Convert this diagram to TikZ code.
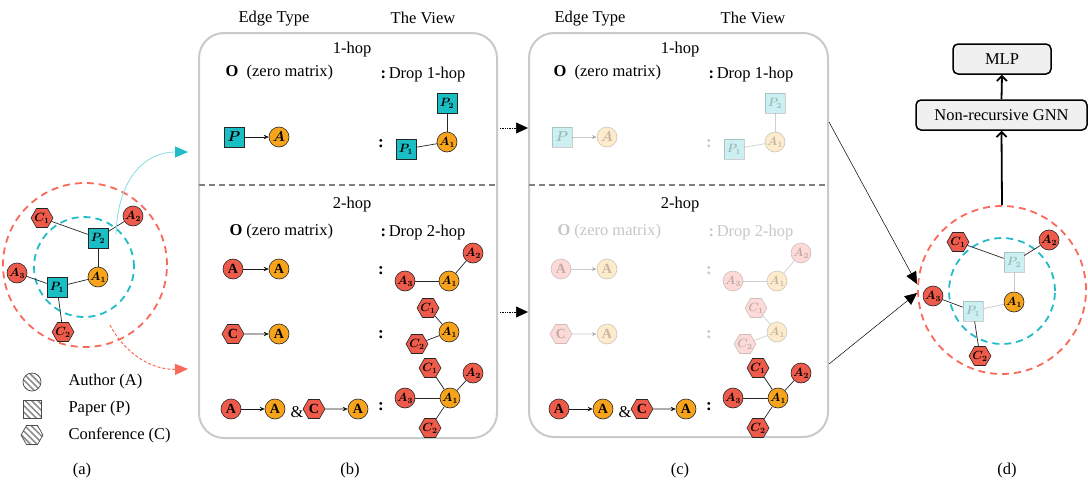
\documentclass[tikz,border=0pt]{standalone}
\usepackage{fontspec}
\setmainfont{Liberation Serif}
\usepackage{amsmath,bm}
\usetikzlibrary{arrows.meta,shapes.geometric,patterns.meta}
\definecolor{tealn}{HTML}{1ABFC6}
\definecolor{orng}{HTML}{F7A41C}
\definecolor{redn}{HTML}{EF5B4B}
\definecolor{ringred}{HTML}{FA6A5A}
\definecolor{ringcyan}{HTML}{22BCC8}
\definecolor{boxgray}{HTML}{CACACA}
\definecolor{lblue}{HTML}{86DCE2}
\newcommand{\ndlab}[2]{$\bm{#1}_{\bm{#2}}$}
\newcommand{\hopview}[1]{%
\node (#1h1) at (352,50) {1-hop};
\node[anchor=west] (#1z1) at (222,73) {\textbf{O}\enspace(zero matrix)};
\node[anchor=west] (#1d1) at (377,75) {\textbf{:}\,Drop 1-hop};
\node[pp,big,fadeg] (#1eP) at (234,137) {$\bm{P}$};
\node[au,big,fadeg] (#1eA) at (279,137) {$\bm{A}$};
\draw[etarrow,fadeg] (#1eP) -- (#1eA);
\node[colon,fadeg] (#1c1) at (381,144) {\textbf{:}};
\node[pp,fadeg] (#1vP2) at (447,103) {\ndlab{P}{2}};
\node[pp,fadeg] (#1vP1) at (406,149) {\ndlab{P}{1}};
\node[au,fadeg] (#1vA1) at (447,142) {\ndlab{A}{1}};
\draw[edge,fadeg] (#1vP2) -- (#1vA1);
\draw[edge,fadeg] (#1vP1) -- (#1vA1);
\node (#1h2) at (352,205) {2-hop};
\node[anchor=west,fadet] (#1z2) at (226,232) {\textbf{O} (zero matrix)};
\node[anchor=west,fadet] (#1d2) at (377,233) {\textbf{:}\,Drop 2-hop};
\node[ar,big,fadeg] (#1r1a) at (233,269) {\textbf{A}};
\node[au,big,fadeg] (#1r1b) at (279,269) {\textbf{A}};
\draw[etarrow,fadeg] (#1r1a) -- (#1r1b);
\node[colon,fadeg] (#1c2) at (381,271) {\textbf{:}};
\node[ar,fadeg] (#1r1A3) at (405,281) {\ndlab{A}{3}};
\node[au,fadeg] (#1r1A1) at (449,281) {\ndlab{A}{1}};
\node[ar,fadeg] (#1r1A2) at (473,253) {\ndlab{A}{2}};
\draw[edge,fadeg] (#1r1A3) -- (#1r1A1);
\draw[edge,fadeg] (#1r1A1) -- (#1r1A2);
\node[cf,big,fadeg] (#1r2c) at (233,334) {\textbf{C}};
\node[au,big,fadeg] (#1r2a) at (279,334) {\textbf{A}};
\draw[etarrow,fadeg] (#1r2c) -- (#1r2a);
\node[colon,fadeg] (#1c3) at (381,335) {\textbf{:}};
\node[cf,fadeg] (#1r2C1) at (428,308) {\ndlab{C}{1}};
\node[au,fadeg] (#1r2A1) at (449,332) {\ndlab{A}{1}};
\node[cf,fadeg] (#1r2C2) at (417,344) {\ndlab{C}{2}};
\draw[edge,fadeg] (#1r2C1) -- (#1r2A1);
\draw[edge,fadeg] (#1r2C2) -- (#1r2A1);
\node[ar,big] (#1r3a) at (231,409) {\textbf{A}};
\node[au,big] (#1r3b) at (275,409) {\textbf{A}};
\node (#1amp) at (297,412) {\&};
\node[cf,big] (#1r3c) at (314,409) {\textbf{C}};
\node[au,big] (#1r3d) at (358,409) {\textbf{A}};
\draw[etarrow] (#1r3a) -- (#1r3b);
\draw[etarrow] (#1r3c) -- (#1r3d);
\node[colon] (#1c4) at (381,407) {\textbf{:}};
\node[cf] (#1r3C1) at (430,368) {\ndlab{C}{1}};
\node[ar] (#1r3A2) at (473,373) {\ndlab{A}{2}};
\node[ar] (#1r3A3) at (405,398) {\ndlab{A}{3}};
\node[au] (#1r3A1) at (450,398) {\ndlab{A}{1}};
\node[cf] (#1r3C2) at (430,428) {\ndlab{C}{2}};
\draw[edge] (#1r3C1) -- (#1r3A1);
\draw[edge] (#1r3A2) -- (#1r3A1);
\draw[edge] (#1r3A3) -- (#1r3A1);
\draw[edge] (#1r3C2) -- (#1r3A1);
}
\begin{document}
\begin{tikzpicture}[x=1pt,y=-1pt,
  font=\fontsize{16.5}{19}\selectfont,
  nd/.style={draw=black!85, line width=0.6pt, inner sep=0pt, text=black, font=\fontsize{12}{12}\selectfont},
  big/.style={font=\fontsize{14}{14}\selectfont},
  au/.style={nd, circle, minimum size=20pt, fill=orng},
  ar/.style={nd, circle, minimum size=20pt, fill=redn},
  pp/.style={nd, rectangle, minimum size=20pt, fill=tealn},
  cf/.style={nd, regular polygon, regular polygon sides=6, minimum size=22pt, inner sep=-3pt, fill=redn},
  edge/.style={line width=0.7pt, draw=black!85},
  fedge/.style={line width=0.7pt, draw=black!22},
  etarrow/.style={line width=0.7pt, draw=black!90, -{Stealth[length=5pt,width=4.5pt]}},
  colon/.style={inner sep=0pt, font=\fontsize{17}{17}\selectfont},
  fadeg/.style={}, fadet/.style={},
  faded/.style={opacity=0.22},
  boxst/.style={draw=boxgray, line width=2pt, rounded corners=25pt},
  sepst/.style={draw=black!50, line width=1.4pt, dash pattern=on 6pt off 4pt},
  ringr/.style={circle, draw=ringred, line width=1.8pt, dash pattern=on 7pt off 5pt, inner sep=0pt},
  ringc/.style={circle, draw=ringcyan, line width=1.8pt, dash pattern=on 7pt off 5pt, inner sep=0pt},
  lg/.style={draw=black!70, line width=0.7pt, inner sep=0pt, pattern={Lines[angle=-45,distance=4.5pt,line width=1.6pt]}, pattern color=black!45},
  bigtip/.style={-{Triangle[length=12pt,width=11pt]}},
  blk/.style={draw=black, line width=1.5pt, rounded corners=5pt, fill=black!6, minimum height=30pt, inner sep=2pt},
  uparrow/.style={line width=1.8pt, -{Straight Barb[length=5pt,width=10pt]}}
]
\useasboundingbox (0,0) rectangle (1088,490);
\fill[white] (0,0) rectangle (1088,490);

% ---------- panel (a)
\node[ringr, minimum size=164pt] (ringA) at (85,265) {};
\node[ringc, minimum size=100pt] (ringAc) at (84,267) {};
\node[cf] (aC1) at (42,218) {\ndlab{C}{1}};
\node[ar] (aA2) at (133,216) {\ndlab{A}{2}};
\node[pp] (aP2) at (98,238) {\ndlab{P}{2}};
\node[au] (aA1) at (98,277) {\ndlab{A}{1}};
\node[ar] (aA3) at (17,273) {\ndlab{A}{3}};
\node[pp] (aP1) at (57,287) {\ndlab{P}{1}};
\node[cf] (aC2) at (63,332) {\ndlab{C}{2}};
\draw[edge] (aC1) -- (aP2);
\draw[edge] (aA2) -- (aP2);
\draw[edge] (aP2) -- (aA1);
\draw[edge] (aA1) -- (aP1);
\draw[edge] (aA3) -- (aP1);
\draw[edge] (aP1) -- (aC2);
\coordinate (cyS) at (116,234);
\coordinate (cyE) at (188,152);
\draw[draw=lblue, line width=0.8pt, -{Triangle[length=13pt,width=11pt,color=ringcyan]}]
  (cyS) .. controls (118,178) and (145,152) .. (cyE);
\coordinate (rdS) at (110,325);
\coordinate (rdE) at (188,369);
\draw[draw=ringred, line width=1pt, dash pattern=on 3pt off 2pt, -{Triangle[length=13pt,width=11pt,color=ringred]}]
  (rdS) .. controls (124,352) and (150,370) .. (rdE);
\node[lg, circle, minimum size=18pt] (lgA) at (32,382) {};
\node[anchor=west] (lgAt) at (65,382) {Author (A)};
\node[lg, rectangle, minimum size=18pt] (lgP) at (32,409) {};
\node[anchor=west] (lgPt) at (65,409) {Paper (P)};
\node[lg, regular polygon, regular polygon sides=6, minimum size=22pt] (lgC) at (32,435) {};
\node[anchor=west] (lgCt) at (65,435) {Conference (C)};
\node (capa) at (82,471) {(a)};

% ---------- panel (b)
\draw[boxst] (199,33) rectangle (497,438);
\draw[sepst] (199,185) -- (497,185);
\node (hb1) at (274,19) {Edge Type};
\node (hb2) at (423,18) {The View};
\begin{scope}
\hopview{b}
\end{scope}
\node (capb) at (350,471) {(b)};

% ---------- panel (c)
\draw[boxst] (529,33) rectangle (828,437);
\draw[sepst] (529,185) -- (828,185);
\node (hc1) at (590,19) {Edge Type};
\node (hc2) at (753,18) {The View};
\begin{scope}[xshift=328pt, fadeg/.style={opacity=0.22}, fadet/.style={text=black!22}]
\hopview{c}
\end{scope}
\node (capc) at (680,471) {(c)};

% arrows b -> c
\coordinate (bc1s) at (500,128);
\coordinate (bc1e) at (528,128);
\coordinate (bc2s) at (500,312);
\coordinate (bc2e) at (528,312);
\draw[densely dotted, line width=0.7pt, bigtip] (bc1s) -- (bc1e);
\draw[densely dotted, line width=0.7pt, bigtip] (bc2s) -- (bc2e);

% ---------- panel (d)
\node[ringr, minimum size=168pt] (ringD) at (1002,290) {};
\node[ringc, minimum size=106pt] (ringDc) at (1002,291) {};
\node[cf] (dC1) at (958,242) {\ndlab{C}{1}};
\node[ar] (dA2) at (1049,240) {\ndlab{A}{2}};
\node[pp, faded] (dP2) at (1014,262) {\ndlab{P}{2}};
\node[au] (dA1) at (1014,302) {\ndlab{A}{1}};
\node[ar] (dA3) at (933,296) {\ndlab{A}{3}};
\node[pp, faded] (dP1) at (973,311) {\ndlab{P}{1}};
\node[cf] (dC2) at (980,356) {\ndlab{C}{2}};
\draw[edge] (dC1) -- (dP2);
\draw[edge] (dA2) -- (dP2);
\draw[fedge] (dP2) -- (dA1);
\draw[fedge] (dA1) -- (dP1);
\draw[edge] (dA3) -- (dP1);
\draw[edge] (dP1) -- (dC2);
\node[blk, minimum width=171pt] (gnn) at (1001.5,115) {Non-recursive GNN};
\node[blk, minimum width=98pt] (mlp) at (1002,59) {MLP};
\draw[uparrow] (ringD.north) -- (gnn.south);
\draw[uparrow] (gnn.north) -- (mlp.south);
\coordinate (cd1s) at (829,122);
\coordinate (cd1e) at (917,284);
\coordinate (cd2s) at (829,364);
\coordinate (cd2e) at (917,293);
\draw[line width=0.5pt, bigtip] (cd1s) -- (cd1e);
\draw[line width=0.5pt, bigtip] (cd2s) -- (cd2e);
\node (capd) at (1007,471) {(d)};
\end{tikzpicture}
\end{document}
